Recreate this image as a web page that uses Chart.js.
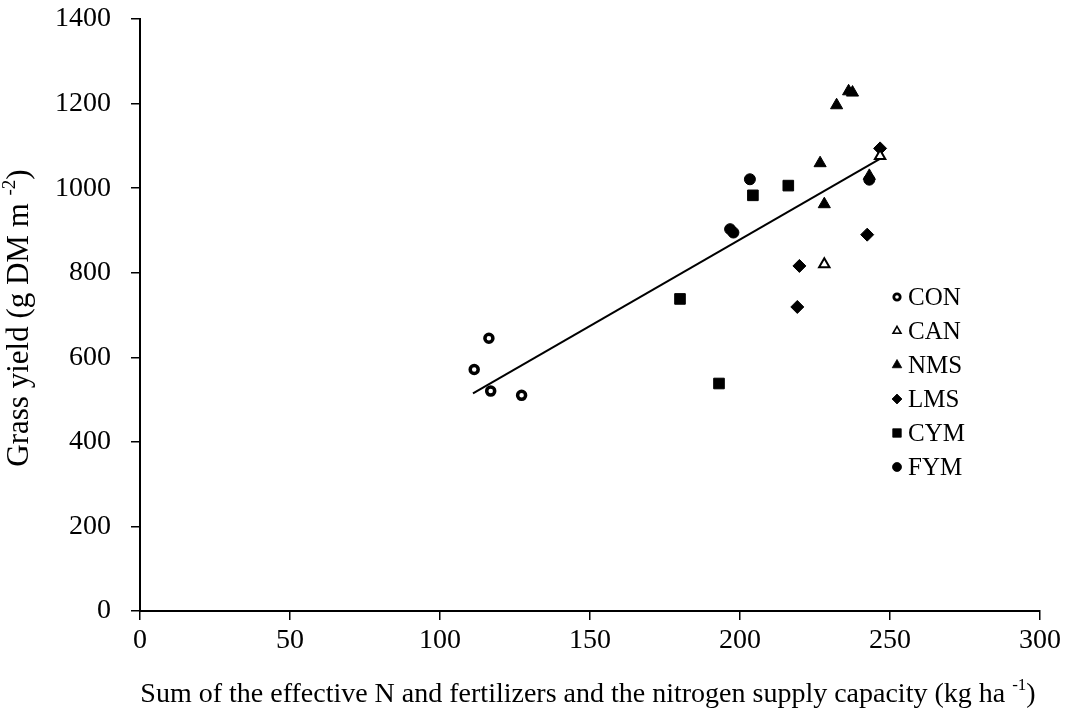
<!DOCTYPE html>
<html>
<head>
<meta charset="utf-8">
<script src="https://cdn.jsdelivr.net/npm/chart.js@4.4.1/dist/chart.umd.min.js"></script>
<style>
  html, body { margin: 0; padding: 0; background: #fff; }
  canvas { display: block; }
</style>
</head>
<body>
<canvas id="yieldChart" width="1088" height="720"></canvas>
<script>
// N supply (kg ha-1) vs grass yield (g DM m-2), one pair of arrays per treatment
const conX = [111.4, 116.3, 116.9, 127.2];
const conY = [571, 645, 520, 510];
const canX = [228.1, 246.7];
const canY = [820, 1076];
const nmsX = [236.2, 237.5, 232.2, 226.7, 228.1, 243.1];
const nmsY = [1229, 1226, 1196, 1059, 962, 1029];
const lmsX = [246.7, 242.4, 219.8, 219.1];
const lmsY = [1094, 890, 816, 719];
const cymX = [180.0, 193.0, 204.3, 216.1];
const cymY = [738, 538, 983, 1006];
const fymX = [203.3, 196.7, 197.8, 243.1];
const fymY = [1021, 903, 895, 1020];

// linear fit y = a*x + b over the data range
const trendSlope = 4.086;
const trendIntercept = 61.3;
const trendX = [111, 246.5];

const xTicks = [0, 50, 100, 150, 200, 250, 300];
const yTicks = [0, 200, 400, 600, 800, 1000, 1200, 1400];

const FONT = 'Liberation Serif, Times New Roman, serif';

const toPoints = (xs, ys) => xs.map((x, i) => ({ x: x, y: ys[i] }));

const series = [
    { label: 'CON', xs: conX, ys: conY, style: 'circle', r: 4, fill: '#fff', bw: 3.5, lr: 3.2 },
    { label: 'CAN', xs: canX, ys: canY, style: 'triangle', r: 6, fill: '#fff', bw: 2, lr: 4.6 },
    { label: 'NMS', xs: nmsX, ys: nmsY, style: 'triangle', r: 7, fill: '#000', bw: 1, lr: 5.5 },
    { label: 'LMS', xs: lmsX, ys: lmsY, style: 'rectRot', r: 6.5, fill: '#000', bw: 1, lr: 5 },
    { label: 'CYM', xs: cymX, ys: cymY, style: 'rect', r: 7.5, fill: '#000', bw: 1, lr: 6 },
    { label: 'FYM', xs: fymX, ys: fymY, style: 'circle', r: 5.5, fill: '#000', bw: 1, lr: 4.5 }
];

const datasets = series.map(s => ({
    label: s.label,
    data: toPoints(s.xs, s.ys),
    pointStyle: s.style,
    pointRadius: s.r,
    pointHoverRadius: s.r,
    pointBackgroundColor: s.fill,
    pointBorderColor: '#000',
    pointBorderWidth: s.bw,
    showLine: false
}));

datasets.push({
    label: 'trend',
    data: trendX.map(x => ({ x: x, y: trendSlope * x + trendIntercept })),
    showLine: true,
    borderColor: '#000',
    borderWidth: 2,
    pointRadius: 0,
    fill: false
});

// text with a superscript part: [main, sup, tail]
function drawSupText(ctx, parts, size) {
    const supSize = Math.round(size * 0.62);
    ctx.font = size + 'px ' + FONT;
    const w0 = ctx.measureText(parts[0]).width;
    const w2 = ctx.measureText(parts[2]).width;
    ctx.font = supSize + 'px ' + FONT;
    const w1 = ctx.measureText(parts[1]).width;
    let x = -(w0 + w1 + w2) / 2;
    ctx.textAlign = 'left';
    ctx.textBaseline = 'middle';
    ctx.font = size + 'px ' + FONT;
    ctx.fillText(parts[0], x, 0);
    x += w0;
    ctx.font = supSize + 'px ' + FONT;
    ctx.fillText(parts[1], x, -size * 0.33);
    x += w1;
    ctx.font = size + 'px ' + FONT;
    ctx.fillText(parts[2], x, 0);
}

const titlesPlugin = {
    id: 'axisTitles',
    afterDraw(chart) {
        const ctx = chart.ctx;
        const area = chart.chartArea;
        ctx.save();
        ctx.fillStyle = '#000';
        ctx.translate(588, 695);
        drawSupText(ctx, ['Sum of the effective N and fertilizers and the nitrogen supply capacity (kg ha ', '-1', ')'], 28);
        ctx.restore();

        ctx.save();
        ctx.fillStyle = '#000';
        ctx.translate(20, (area.top + area.bottom) / 2 + 3);
        ctx.rotate(-Math.PI / 2);
        drawSupText(ctx, ['Grass yield (g DM m ', '-2', ')'], 31);
        ctx.restore();
    }
};

const legendPlugin = {
    id: 'sideLegend',
    afterDraw(chart) {
        const ctx = chart.ctx;
        ctx.save();
        series.forEach((s, i) => {
            const y = 297 + i * 34;
            ctx.fillStyle = s.fill;
            ctx.strokeStyle = '#000';
            ctx.lineWidth = s.bw * 0.8;
            Chart.helpers.drawPoint(ctx, {
                pointStyle: s.style,
                radius: s.lr,
                rotation: 0,
                borderWidth: s.bw * 0.8
            }, 897, y);
            ctx.fillStyle = '#000';
            ctx.font = '25px ' + FONT;
            ctx.textAlign = 'left';
            ctx.textBaseline = 'middle';
            ctx.fillText(s.label, 908, y + 1);
        });
        ctx.restore();
    }
};

const axisStyle = (ticks, padding) => ({
    type: 'linear',
    min: ticks[0],
    max: ticks[ticks.length - 1],
    afterBuildTicks: scale => { scale.ticks = ticks.map(v => ({ value: v })); },
    ticks: {
        color: '#000',
        font: { family: FONT, size: 28, lineHeight: 1.2 },
        padding: padding,
        callback: v => String(v)
    },
    grid: {
        drawOnChartArea: false,
        drawTicks: true,
        tickLength: 9,
        color: '#000',
        lineWidth: 1.5
    },
    border: { color: '#000', width: 2 },
    title: { display: false }
});

const xScale = axisStyle(xTicks, 4);
xScale.afterFit = scale => { scale.height = 109; };
const yScale = axisStyle(yTicks, 20);
yScale.afterFit = scale => {
    scale.width = 140;
    // the top label may overhang; keep the plot top at the layout padding
    scale.paddingTop = 0;
    scale.paddingBottom = 0;
};

new Chart(document.getElementById('yieldChart'), {
    type: 'scatter',
    data: { datasets: datasets },
    options: {
        responsive: false,
        animation: false,
        devicePixelRatio: 1,
        layout: { padding: { top: 19, right: 48, left: 0, bottom: 0 } },
        scales: { x: xScale, y: yScale },
        plugins: {
            legend: { display: false },
            tooltip: { enabled: false }
        }
    },
    plugins: [titlesPlugin, legendPlugin]
});
</script>
</body>
</html>
